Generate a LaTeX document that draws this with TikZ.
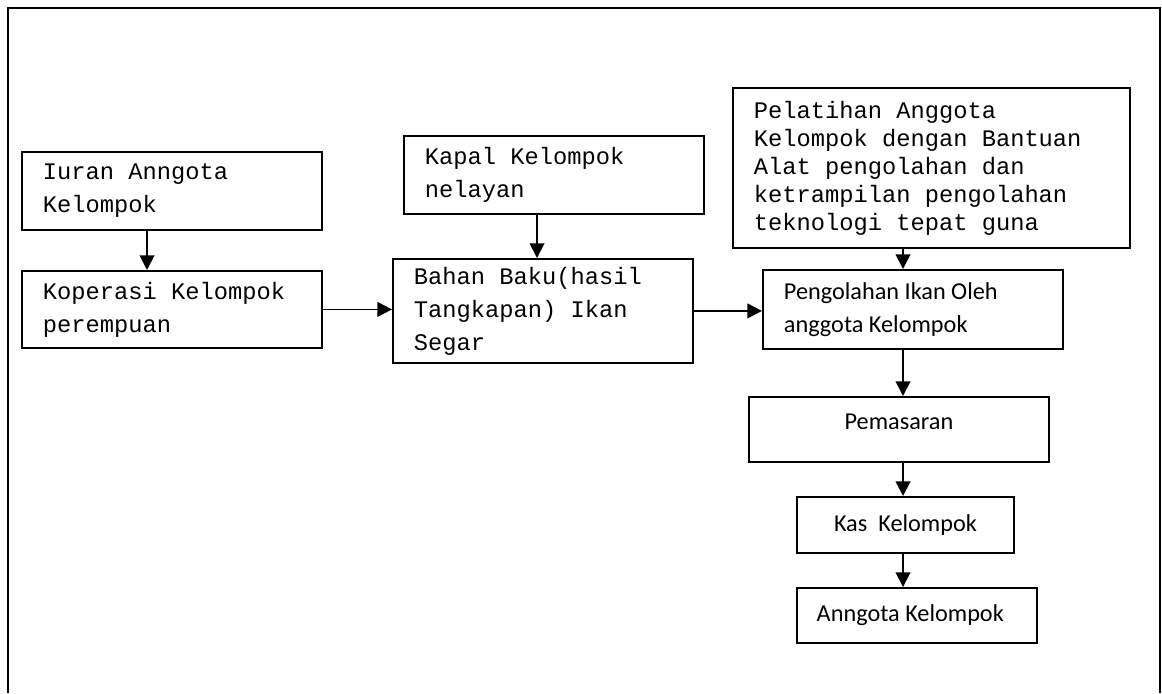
\documentclass[tikz,border=0pt]{standalone}
\usepackage{fontspec}
\usepackage{tikz}
\usetikzlibrary{arrows.meta}
\usetikzlibrary{positioning}
\newfontfamily\monofont{Liberation Mono}
\newfontfamily\calfont{Carlito}
\newcommand\monoset[1]{\monofont\fontsize{17.8}{#1}\selectfont}
\newcommand\calset{\calfont\fontsize{18.2}{24.75}\selectfont}

\tikzset{
  box/.style={draw, line width=1.4pt, anchor=north west, inner ysep=2pt},
  leftbox/.style={box, align=flush left, inner xsep=15.75pt, text width=#1},
  midbox/.style={box, align=flush center, minimum width=#1},
  mono/.style={font=\monoset{#1}},
  cal/.style={font=\calset},
  arr/.style={-{Triangle[length=11pt,width=11pt]}, line width=1.4pt},
}

\begin{document}
\begin{tikzpicture}[x=0.75pt, y=-0.75pt]
    \useasboundingbox (0,0) rectangle (1162,693);
    % frame
    \draw [line width=1.5pt] (8,693) -- (8,8) -- (1160,8) -- (1160,693);
    % left column
    \node [leftbox=193.5pt, mono=24.75pt, minimum height=58.5pt] (iuran) at (21,151)
      {Iuran Anngota\\Kelompok};
    \node [leftbox=193.5pt, mono=24.75pt, minimum height=57.75pt] (koperasi) at (21,270)
      {Koperasi Kelompok\\perempuan};
    % middle column
    \node [leftbox=193.5pt, mono=24.75pt, minimum height=58.5pt] (kapal) at (403,135)
      {Kapal Kelompok\\nelayan};
    \node [leftbox=193.5pt, mono=24.75pt, minimum height=78pt] (bahan) at (392,258)
      {Bahan Baku(hasil\\Tangkapan) Ikan\\Segar};
    % right column
    \node [leftbox=266.25pt, mono=21pt, minimum height=120pt] (pelatihan) at (732,87)
      {Pelatihan Anggota\\Kelompok dengan Bantuan\\Alat pengolahan dan\\ketrampilan pengolahan\\teknologi tepat guna};
    \node [leftbox=193.5pt, cal, minimum height=59.25pt] (pengolahan) at (762,269)
      {Pengolahan Ikan Oleh\\anggota Kelompok};
    \node [midbox=225pt, cal, text depth=11pt, minimum height=48.75pt] (pemasaran) at (748,396)
      {Pemasaran};
    \node [midbox=162.75pt, cal, minimum height=42pt] (kas) at (796,496)
      {Kas\ \ Kelompok};
    \node [midbox=180pt, cal, minimum height=41.25pt] (anggota) at (796,587)
      {Anngota Kelompok\hspace{10pt}};
    % arrow lines
    \coordinate (axisL) at (147,0);
    \coordinate (axisM) at (537,0);
    \coordinate (axisR) at (903,0);
    \draw [arr] (iuran.south -| axisL) -- (koperasi.north -| axisL);
    \draw [arr] (kapal.south -| axisM) -- (bahan.north -| axisM);
    \draw [arr] (koperasi.east) -- (koperasi.east -| bahan.west);
    \draw [arr] (bahan.east) -- (bahan.east -| pengolahan.west);
    \draw [arr] (pelatihan.south -| axisR) -- (pengolahan.north -| axisR);
    \draw [arr] (pengolahan.south -| axisR) -- (pemasaran.north -| axisR);
    \draw [arr] (pemasaran.south -| axisR) -- (kas.north -| axisR);
    \draw [arr] (kas.south -| axisR) -- (anggota.north -| axisR);
\end{tikzpicture}
\end{document}
